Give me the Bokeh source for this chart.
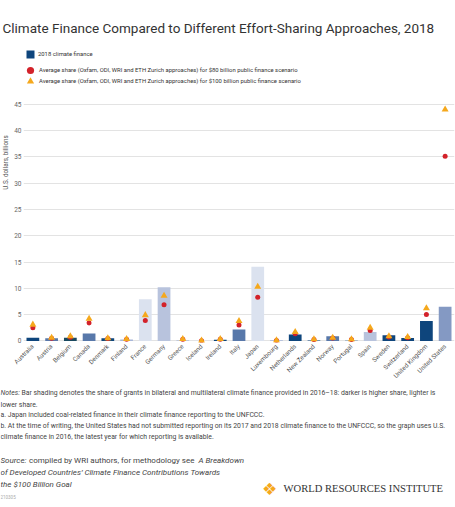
import math
from bokeh.plotting import figure
from bokeh.layouts import column, row
from bokeh.models import (ColumnDataSource, Label, Legend, LegendItem, FixedTicker)
from bokeh.embed import file_html
from bokeh.resources import INLINE

# ---------------- data ----------------
countries = ["Australia", "Austria", "Belgium", "Canada", "Denmark", "Finland", "France",
             "Germany", "Greece", "Iceland", "Ireland", "Italy", "Japan", "Luxembourg",
             "Netherlands", "New Zealand", "Norway", "Portugal", "Spain", "Sweden",
             "Switzerland", "United Kingdom", "United States"]
finance_2018 = [0.6, 0.5, 0.6, 1.4, 0.5, 0.25, 7.9, 10.2, 0.1, 0.05, 0.2, 2.15, 14.1, 0.13,
                1.2, 0.1, 0.9, 0.05, 1.7, 1.08, 0.57, 3.8, 6.5]
share_80bn = [2.5, 0.5, 0.7, 3.4, 0.45, 0.3, 3.9, 6.9, 0.3, 0.05, 0.3, 3.05, 8.3, 0.1,
              1.35, 0.25, 0.55, 0.25, 2.0, 0.75, 0.6, 5.0, 35.1]
share_100bn = [3.1, 0.6, 0.9, 4.2, 0.5, 0.35, 4.9, 8.6, 0.35, 0.05, 0.35, 3.8, 10.3, 0.1,
               1.7, 0.3, 0.6, 0.3, 2.5, 0.9, 0.75, 6.2, 44.0]
grant_share = ["high", "mid", "teal", "mid", "high", "light", "vlight", "lmid", "lmid2",
               "vlight", "high", "mid", "vlight", "light", "high", "high", "mid", "high",
               "lmid", "high", "high", "high", "lmid3"]
y_ticks = [0, 5, 10, 15, 20, 25, 30, 35, 40, 45]

shade_colors = {"high": "#0e457c", "teal": "#19495f", "mid": "#5878aa", "lmid3": "#8499c3",
                "lmid2": "#9fb0d2", "light": "#a7b6d8", "lmid": "#b8c3dd", "vlight": "#dbe2ef"}
RED, GOLD = "#d3222a", "#f5a81c"

FONT = "Roboto"
W = 455
STRIP_W = 11
HEAD_H = 45
FRAME_W, FRAME_H = 431, 297
BL, BR, BB = 12, 1, 43
MAIN_H = FRAME_H + BB
FOOT_H = 507 - HEAD_H - MAIN_H


def text_panel(w, h):
    f = figure(width=w, height=h, x_range=(0, 1), y_range=(0, 1), output_backend="svg",
               toolbar_location=None, title=None, min_border=0, min_border_left=0,
               min_border_right=0, min_border_top=0, min_border_bottom=0,
               x_axis_type=None, y_axis_type=None)
    f.outline_line_color = None
    f.background_fill_color = "white"
    f.border_fill_color = "white"
    f.grid.visible = False
    return f


def lab(f, h, text, x, y, size, color="#333333", style="normal", font=FONT, angle=0,
        align="left", baseline="middle"):
    f.add_layout(Label(text=text, x=x, y=h - y, x_units="screen", y_units="screen",
                       text_font=font, text_font_size=size, text_color=color,
                       text_font_style=style, angle=angle, text_align=align,
                       text_baseline=baseline))


# ---------------- header ----------------
head = text_panel(W, HEAD_H)
lab(head, HEAD_H, "Climate Finance Compared to Different Effort-Sharing Approaches, 2018",
    2, 27, "13.5px", baseline="alphabetic")

# ---------------- chart ----------------
src = ColumnDataSource(dict(
    country=countries, fin=finance_2018, s80=share_80bn, s100=share_100bn,
    color=[shade_colors[g] for g in grant_share]))

p = figure(x_range=countries, y_range=(-0.3, 56.16), frame_width=FRAME_W, frame_height=FRAME_H,
           output_backend="svg", toolbar_location=None, title=None,
           min_border_left=BL, min_border_right=BR, min_border_top=0, min_border_bottom=BB)
p.outline_line_color = None

bars = p.vbar(x="country", top="fin", width=0.68, source=src, fill_color="color", line_color=None)
circ = p.scatter(x="country", y="s80", source=src, marker="circle", size=5,
                 fill_color=RED, line_color=None)
tri = p.scatter(x="country", y="s100", source=src, marker="triangle", size=7,
                fill_color=GOLD, line_color=None)

p.yaxis.ticker = FixedTicker(ticks=y_ticks)
p.yaxis.axis_line_color = None
p.yaxis.major_tick_line_color = None
p.yaxis.minor_tick_line_color = None
p.yaxis.major_tick_out = 0
p.yaxis.major_tick_in = 0
p.yaxis.minor_tick_out = 0
p.yaxis.major_label_standoff = 2
p.yaxis.major_label_text_font = FONT
p.yaxis.major_label_text_font_size = "6.5px"
p.yaxis.major_label_text_color = "#666666"

p.xaxis.axis_line_color = None
p.xaxis.major_tick_line_color = None
p.xaxis.major_tick_out = 0
p.xaxis.major_tick_in = 0
p.xaxis.major_label_orientation = math.pi / 4
p.xaxis.major_label_standoff = 3
p.xaxis.major_label_text_font = FONT
p.xaxis.major_label_text_font_size = "6.3px"
p.xaxis.major_label_text_color = "#555555"

p.xgrid.grid_line_color = None
p.ygrid.grid_line_color = "#e3e3e3"
p.ygrid.grid_line_width = 1

leg_style = dict(border_line_color=None, background_fill_alpha=0, label_text_font=FONT,
                 label_text_font_size="5.9px", label_text_color="#333333",
                 padding=0, margin=0, spacing=0)
p.add_layout(Legend(items=[LegendItem(label="2018 climate finance", renderers=[bars], index=0)],
                    location=(2, FRAME_H - 13.5), glyph_width=10, glyph_height=10, label_height=10,
                    label_standoff=3, **leg_style))
p.add_layout(Legend(items=[LegendItem(
    label="Average share (Oxfam, ODI, WRI and ETH Zurich approaches) for $80 billion public finance scenario",
    renderers=[circ], index=0)],
    location=(-2, FRAME_H - 34.5), glyph_width=18, glyph_height=20, label_height=20,
    label_standoff=0, **leg_style))
p.add_layout(Legend(items=[LegendItem(
    label="Average share (Oxfam, ODI, WRI and ETH Zurich approaches) for $100 billion public finance scenario",
    renderers=[tri], index=0)],
    location=(-2, FRAME_H - 46), glyph_width=18, glyph_height=20, label_height=20,
    label_standoff=0, **leg_style))

strip = text_panel(STRIP_W, MAIN_H)
lab(strip, MAIN_H, "U.S. dollars, billions", 5.5, 160, "6.3px", color="#555555",
    angle=math.pi / 2, align="center")

# ---------------- footer ----------------
foot = text_panel(W, FOOT_H)
N = "6.85px"
NC = "#444444"
lab(foot, FOOT_H, "Notes:", 0, 7.7, N, color=NC, style="italic")
lab(foot, FOOT_H, "Bar shading denotes the share of grants in bilateral and multilateral climate finance provided in 2016\u201318: darker is higher share, lighter is",
    21, 7.7, N, color=NC)
lab(foot, FOOT_H, "lower share.", 0, 19, N, color=NC)
lab(foot, FOOT_H, "a. Japan included coal-related finance in their climate finance reporting to the UNFCCC.", 0, 29.3, N, color=NC)
lab(foot, FOOT_H, "b. At the time of writing, the United States had not submitted reporting on its 2017 and 2018 climate finance to the UNFCCC, so the graph uses U.S.",
    0, 40.7, N, color=NC)
lab(foot, FOOT_H, "climate finance in 2016, the latest year for which reporting is available.", 0, 51.7, N, color=NC)

S = "8px"
lab(foot, FOOT_H, "Source:", 0, 75, S, color=NC, style="italic")
lab(foot, FOOT_H, "compiled by WRI authors, for methodology see", 28.5, 75, S, color=NC)
lab(foot, FOOT_H, "A Breakdown", 198, 75, S, color=NC, style="italic")
lab(foot, FOOT_H, "of Developed Countries\u2019 Climate Finance Contributions Towards", 0, 86.7, S, color=NC, style="italic")
lab(foot, FOOT_H, "the $100 Billion Goal", 0, 99.3, S, color=NC, style="italic")
lab(foot, FOOT_H, "210305", 0, 111, "4.5px", color="#aaaaaa")

lab(foot, FOOT_H, "\u2756", 269, 103, "17px", color=GOLD, font="DejaVu Sans", align="center")
lab(foot, FOOT_H, "WORLD RESOURCES INSTITUTE", 283, 103, "10.6px", color="#333333",
    font="Liberation Serif")

layout = column(head, row(strip, p, spacing=0), foot, spacing=0)
open("out.html", "w").write(file_html(layout, INLINE))
